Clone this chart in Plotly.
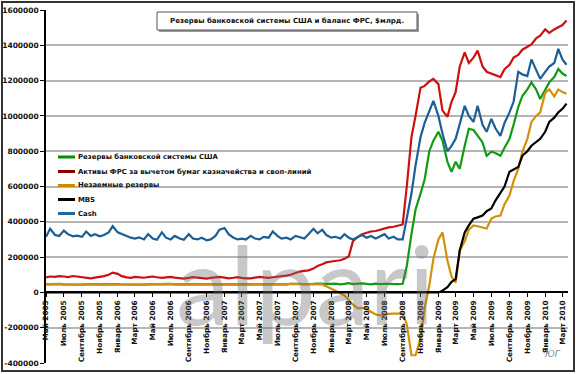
import plotly.graph_objects as go

# ---------------- data (values in thousands of the axis unit) ----------------
START_YEAR, START_MONTH, N_MONTHS = 2005, 5, 59   # May 2005 .. Mar 2010, 1st & 15th

RESERVES = [  # Резервы банковской системы США
    46, 47, 45, 48, 46, 45, 47, 46, 44, 46,
    48, 47, 45, 46, 48, 50, 47, 46, 45, 46,
    47, 45, 44, 46, 47, 46, 45, 47, 48, 46,
    44, 45, 47, 46, 45, 44, 46, 47, 48, 46,
    45, 44, 46, 45, 47, 46, 45, 48, 46, 45,
    47, 46, 48, 47, 46, 49, 50, 48, 47, 46,
    48, 50, 49, 47, 48, 50, 46, 48, 52, 47,
    49, 51, 48, 46, 50, 47, 49, 48, 50, 47,
    49, 150, 330, 470, 560, 640, 800, 860, 910, 860,
    740, 683, 740, 700, 831, 927, 920, 887, 850, 774,
    797, 790, 774, 820, 870, 950, 1050, 1113, 1150, 1190,
    1150, 1096, 1150, 1190, 1220, 1266, 1240, 1226,
]
FED_ASSETS = [  # Активы ФРС за вычетом бумаг казначейства и своп-линий
    85, 90, 88, 92, 90, 87, 93, 90, 88, 85,
    80, 84, 88, 92, 100, 112, 105, 92, 85, 82,
    88, 85, 83, 87, 90, 86, 82, 85, 88, 84,
    80, 78, 82, 86, 84, 80, 78, 82, 85, 88,
    84, 80, 83, 86, 82, 79, 80, 84, 88, 85,
    82, 86, 88, 90, 95, 100, 110, 118, 122, 125,
    135, 150, 160, 170, 175, 178, 182, 190, 205, 290,
    315, 330, 340, 345, 348, 355, 360, 368, 372, 378,
    385, 600, 880, 1000, 1160, 1170, 1195, 1210, 1180, 1030,
    995, 1080, 1135, 1280, 1360, 1300, 1330, 1370, 1280, 1250,
    1240, 1230, 1220, 1265, 1290, 1330, 1345, 1375, 1390, 1405,
    1440, 1455, 1490, 1470, 1490, 1505, 1515, 1540,
]
NONBORROWED = [  # Незаемные резервы
    45, 46, 44, 47, 45, 44, 46, 45, 43, 45,
    47, 46, 44, 45, 47, 49, 46, 45, 44, 45,
    46, 44, 43, 45, 46, 45, 44, 46, 47, 45,
    43, 44, 46, 45, 44, 43, 45, 46, 47, 45,
    44, 43, 45, 44, 46, 45, 44, 47, 45, 44,
    46, 45, 47, 46, 45, 48, 49, 47, 46, 45,
    46, 45, 45, 35, 23, 10, -6, -17, -45, -70,
    -90, -88, -92, -110, -125, -130, -128, -122, -120, -119,
    -120, -180, -356, -356, -260, -90, 40, 190, 300, 340,
    180, 90, 55, 237, 290, 355, 380, 375, 370, 362,
    418, 430, 435, 500, 548, 630, 700, 797, 870, 966,
    1000, 1020, 1130, 1150, 1110, 1150, 1135, 1125,
]
MBS = [
    0, 0, 0, 0, 0, 0, 0, 0, 0, 0,
    0, 0, 0, 0, 0, 0, 0, 0, 0, 0,
    0, 0, 0, 0, 0, 0, 0, 0, 0, 0,
    0, 0, 0, 0, 0, 0, 0, 0, 0, 0,
    0, 0, 0, 0, 0, 0, 0, 0, 0, 0,
    0, 0, 0, 0, 0, 0, 0, 0, 0, 0,
    0, 0, 0, 0, 0, 0, 0, 0, 0, 0,
    0, 0, 0, 0, 0, 0, 0, 0, 0, 0,
    0, 0, 0, 0, 0, 0, 0, 0, 0, 10,
    30, 60, 75, 237, 340, 380, 418, 425, 435, 460,
    475, 520, 560, 600, 684, 695, 710, 774, 800, 831,
    850, 870, 910, 966, 990, 1020, 1040, 1070,
]
CASH = [
    315, 360, 325, 320, 350, 330, 318, 322, 315, 345,
    320, 330, 318, 325, 340, 375, 340, 330, 320, 310,
    305, 312, 300, 330, 305, 298, 340, 310, 300, 320,
    305, 298, 330, 305, 300, 310, 295, 300, 320, 355,
    365, 330, 310, 300, 305, 300, 320, 305, 300, 315,
    310, 345, 320, 305, 310, 300, 320, 315, 305, 330,
    360, 335, 355, 325, 310, 315, 305, 330, 310, 300,
    315, 325, 310, 320, 305, 315, 330, 305, 315, 300,
    300, 420, 560, 720, 880, 960, 1030, 1085, 1000, 900,
    800, 830, 870, 960, 1057, 1000, 966, 1057, 950, 910,
    983, 930, 887, 960, 1020, 1080, 1250, 1235, 1226, 1320,
    1260, 1210, 1250, 1280, 1300, 1380, 1320, 1290,
]
UNIT = 1000

SERIES_NAMES = [
    "Резервы банковской системы США",
    "Активы ФРС за вычетом бумаг казначейства и своп-линий",
    "Незаемные резервы",
    "MBS",
    "Cash",
]

TICK_DATES = [
    "2005-05-01", "2005-07-01", "2005-09-01", "2005-11-01", "2006-01-01", "2006-03-01",
    "2006-05-01", "2006-07-01", "2006-09-01", "2006-11-01", "2007-01-01", "2007-03-01",
    "2007-05-01", "2007-07-01", "2007-09-01", "2007-11-01", "2008-01-01", "2008-03-01",
    "2008-05-01", "2008-07-01", "2008-09-01", "2008-11-01", "2009-01-01", "2009-03-01",
    "2009-05-01", "2009-07-01", "2009-09-01", "2009-11-01", "2010-01-01", "2010-03-01",
]
TICK_LABELS = [
    "Май 2005", "Июль 2005", "Сентябрь 2005", "Ноябрь 2005", "Январь 2006", "Март 2006",
    "Май 2006", "Июль 2006", "Сентябрь 2006", "Ноябрь 2006", "Январь 2007", "Март 2007",
    "Май 2007", "Июль 2007", "Сентябрь 2007", "Ноябрь 2007", "Январь 2008", "Март 2008",
    "Май 2008", "Июль 2008", "Сентябрь 2008", "Ноябрь 2008", "Январь 2009", "Март 2009",
    "Май 2009", "Июль 2009", "Сентябрь 2009", "Ноябрь 2009", "Январь 2010", "Март 2010",
]
Y_TICKS = [-400000, -200000, 0, 200000, 400000, 600000, 800000,
           1000000, 1200000, 1400000, 1600000]

TITLE = "Резервы банковской системы США и баланс ФРС, $млрд."

# semi-monthly date grid
DATES = []
for k in range(N_MONTHS):
    y = START_YEAR + (START_MONTH - 1 + k) // 12
    m = (START_MONTH - 1 + k) % 12 + 1
    DATES.append(f"{y}-{m:02d}-01")
    DATES.append(f"{y}-{m:02d}-15")

# ---------------- figure ----------------
FONT = "DejaVu Sans"
LINE_COLORS = ["#139a13", "#cc1010", "#d4900a", "#000000", "#1b5f96"]
LEG_COLORS = ["#0a8a0a", "#8b0000", "#d08a00", "#000000", "#1b6aa0"]
series = [RESERVES, FED_ASSETS, NONBORROWED, MBS, CASH]

fig = go.Figure()
for name, vals, col in zip(SERIES_NAMES, series, LINE_COLORS):
    fig.add_trace(go.Scatter(
        x=DATES, y=[v * UNIT for v in vals], mode="lines", name=name,
        line=dict(color=col, width=2.2), showlegend=False,
    ))

W, H = 576, 374
ML, MR, MT, MB = 46, 8, 10, 11
PW, PH = W - ML - MR, H - MT - MB

def px(x):
    return (x - ML) / PW

def py(y):
    return (H - MB - y) / PH

shapes = []
annotations = []

# outer frame
shapes.append(dict(type="rect", xref="paper", yref="paper",
                   x0=px(2), x1=px(574), y0=py(371), y1=py(2),
                   line=dict(color="#333333", width=2), layer="above"))

# title box with shadow
shapes.append(dict(type="rect", xref="paper", yref="paper",
                   x0=px(159), x1=px(419), y0=py(32), y1=py(14),
                   fillcolor="#9a9a9a", line=dict(width=0), layer="above"))
shapes.append(dict(type="rect", xref="paper", yref="paper",
                   x0=px(157), x1=px(417), y0=py(30), y1=py(12),
                   fillcolor="white", line=dict(color="#555555", width=1), layer="above"))
annotations.append(dict(xref="paper", yref="paper", x=px(287), y=py(21),
                        text="<b>" + TITLE + "</b>", showarrow=False,
                        font=dict(family=FONT, size=7, color="#111111"),
                        xanchor="center", yanchor="middle"))

# watermark
annotations.append(dict(xref="paper", yref="paper", x=px(305), y=py(283),
                        text="alpari", showarrow=False,
                        font=dict(family="Lato", size=108, color="rgba(110,110,110,0.38)"),
                        xanchor="center", yanchor="middle"))
annotations.append(dict(xref="paper", yref="paper", x=px(553), y=py(354),
                        text="<i>ЮГ</i>", showarrow=False,
                        font=dict(family=FONT, size=9, color="#8a8a8a"),
                        xanchor="center", yanchor="middle"))

# legend (manual)
leg_y = [157, 171.5, 185.5, 199.5, 213.5]
for name, col, yy in zip(SERIES_NAMES, LEG_COLORS, leg_y):
    shapes.append(dict(type="line", xref="paper", yref="paper",
                       x0=px(58), x1=px(75), y0=py(yy), y1=py(yy),
                       line=dict(color=col, width=3), layer="above"))
    annotations.append(dict(xref="paper", yref="paper", x=px(76), y=py(yy),
                            text="<b>" + name + "</b>", showarrow=False,
                            font=dict(family=FONT, size=6.9, color="#111111"),
                            xanchor="left", yanchor="middle"))

fig.update_layout(
    width=W, height=H,
    margin=dict(l=ML, r=MR, t=MT, b=MB, autoexpand=False),
    paper_bgcolor="white", plot_bgcolor="white",
    showlegend=False,
    shapes=shapes, annotations=annotations,
    xaxis=dict(
        type="date", range=["2005-05-01", "2010-03-20"],
        tickvals=TICK_DATES, ticktext=["<b>" + t + "</b>" for t in TICK_LABELS],
        tickangle=-90, tickfont=dict(family=FONT, size=7.3, color="#111111"),
        ticks="outside", ticklen=4, tickcolor="#000000", tickwidth=1,
        showline=True, linecolor="#000000", linewidth=2,
        showgrid=False, zeroline=False,
        anchor="free", position=0.2,
    ),
    yaxis=dict(
        range=[-400000, 1600000], tickvals=Y_TICKS,
        ticktext=["<b>%d</b>" % v for v in Y_TICKS],
        tickfont=dict(family=FONT, size=7.5, color="#111111"),
        ticks="outside", ticklen=4, tickcolor="#000000",
        showline=True, linecolor="#000000", linewidth=1.5,
        showgrid=True, gridcolor="#b5b5b5", gridwidth=1.5,
        zeroline=False,
    ),
)

fig.write_html("out.html", config={"displayModeBar": False},
               post_script="document.body.style.margin='0';document.body.style.padding='0';")
